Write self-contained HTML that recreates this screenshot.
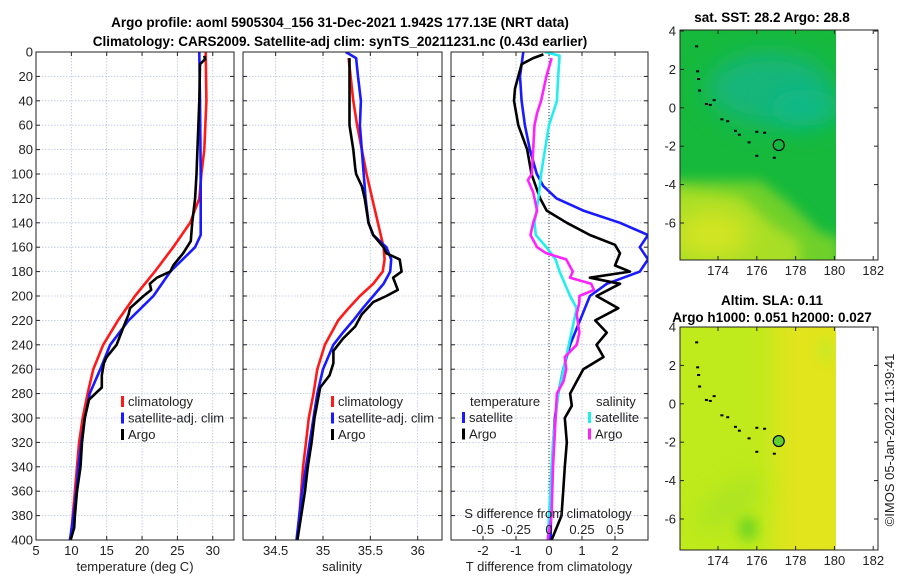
<!DOCTYPE html>
<html><head><meta charset="utf-8">
<style>
body{margin:0;background:#fff;}
svg{display:block;font-family:"Liberation Sans","DejaVu Sans",sans-serif;}
.t{font-size:13px;fill:#222;}
.b{font-size:13.5px;font-weight:bold;fill:#000;}
</style></head>
<body>
<svg id="fig" width="900" height="580" viewBox="0 0 900 580" xmlns="http://www.w3.org/2000/svg">
<defs>
<filter id="blur6" filterUnits="userSpaceOnUse" x="600" y="0" width="300" height="580"><feGaussianBlur stdDeviation="6"/></filter>
<filter id="blur10" filterUnits="userSpaceOnUse" x="600" y="0" width="300" height="580"><feGaussianBlur stdDeviation="12"/></filter>
<clipPath id="c1"><rect x="36" y="52" width="198" height="488"/></clipPath>
<clipPath id="c2"><rect x="243" y="52" width="199" height="488"/></clipPath>
<clipPath id="c3"><rect x="451" y="52" width="197" height="488"/></clipPath>
<clipPath id="m1"><rect x="680" y="30" width="156" height="230"/></clipPath>
<clipPath id="m2"><rect x="680" y="327" width="156" height="223"/></clipPath>
</defs>
<text class="b" x="340" y="27" text-anchor="middle">Argo profile: aoml 5905304_156 31-Dec-2021 1.942S 177.13E (NRT data)</text>
<text class="b" x="340" y="46" text-anchor="middle">Climatology: CARS2009. Satellite-adj clim: synTS_20211231.nc (0.43d earlier)</text>
<g id="p1"></g>
<g id="p2"></g>
<g id="p3"></g>
<g id="maps"></g>
<text class="t" transform="translate(894,440) rotate(-90)" text-anchor="middle">©IMOS 05-Jan-2022 11:39:41</text>
</svg>
<script>
// Depth axis
const depthTicks = [0,20,40,60,80,100,120,140,160,180,200,220,240,260,280,300,320,340,360,380,400];
// Temperature panel
const tTicks = [5,10,15,20,25,30];
const tClimD = [0,40,80,100,120,140,160,180,200,220,240,260,280,300,320,340,360,380,400];
const tClimV = [29.0,29.1,28.8,28.4,28.1,26.8,24.4,21.8,19.0,16.6,14.5,13.1,12.3,11.6,11.1,10.8,10.5,10.2,9.9];
const tSatD = [0,40,100,150,160,180,200,220,240,260,280,300,320,340,360,380,400];
const tSatV = [28.1,28.2,28.3,28.3,27.5,24.0,21.6,18.1,15.5,14.1,12.6,11.9,11.4,11.0,10.7,10.3,9.8];
const tArgoD = [3,6,10,40,100,120,140,155,165,175,180,185,190,195,200,210,215,225,240,250,255,265,275,280,285,300,320,340,360,380,390,400];
const tArgoV = [28.8,28.9,28.2,28.1,27.7,27.5,27.1,26.9,25.8,24.4,24.0,22.1,21.1,21.3,20.2,18.3,18.1,17.4,16.4,15.0,14.6,14.3,14.3,13.4,12.5,11.9,11.5,11.3,10.8,10.5,10.4,9.9];
// Salinity panel
const sTicks = [34.5,35,35.5,36];
const sClimD = [5,40,60,80,100,120,140,160,170,180,190,200,210,220,240,260,280,300,320,340,360,380,400];
const sClimV = [35.27,35.32,35.36,35.41,35.46,35.52,35.58,35.64,35.65,35.63,35.53,35.39,35.27,35.16,35.02,34.94,34.90,34.85,34.82,34.79,34.77,34.75,34.73];
const sSatD = [0,5,20,40,60,80,100,120,140,150,160,170,180,190,200,210,220,230,240,260,280,300,320,340,360,380,400];
const sSatV = [35.24,35.35,35.37,35.40,35.39,35.41,35.43,35.45,35.48,35.53,35.67,35.72,35.71,35.64,35.53,35.42,35.32,35.21,35.11,35.00,34.94,34.90,34.86,34.82,34.78,34.75,34.72];
const sArgoD = [5,20,40,60,80,95,100,110,120,130,140,150,160,165,170,180,185,195,200,205,215,225,235,245,255,265,275,300,320,340,360,380,400];
const sArgoV = [35.28,35.28,35.28,35.28,35.32,35.34,35.35,35.41,35.44,35.46,35.48,35.53,35.64,35.67,35.81,35.83,35.74,35.79,35.67,35.53,35.41,35.34,35.21,35.11,35.11,35.07,34.97,34.91,34.88,34.84,34.81,34.77,34.73];
// Difference panel
const dtTicks = [-2,-1,0,1,2];
const dsTicks = [-0.5,-0.25,0,0.25,0.5];
const dsTickLabels = ["-0.5","-0.25","0","0.25","0.5"];
const dTSatD = [0,20,40,60,80,100,110,120,130,140,150,160,170,180,190,200,220,240,260,280,300,320,340,360,380,400];
const dTSatV = [-0.78,-0.88,-0.83,-0.73,-0.58,-0.37,-0.17,0.23,1.04,2.15,3.0,2.75,3.0,2.75,1.75,1.24,0.94,0.64,0.43,0.28,0.18,0.13,0.11,0.08,0.06,0.05];
const dTArgoD = [2,5,10,20,30,40,60,80,100,120,130,140,150,158,165,175,180,185,190,200,210,220,230,240,250,260,280,290,300,320,340,360,380,400];
const dTArgoV = [-0.17,-0.48,-0.83,-0.93,-1.03,-1.06,-0.93,-0.66,-0.53,-0.27,-0.07,0.54,1.24,2.0,2.15,2.0,2.45,1.24,2.15,1.44,2.10,1.40,1.75,1.44,1.65,1.04,0.64,0.69,0.48,0.54,0.48,0.43,0.38,0.08];
const dSSatD = [0,3,20,40,50,60,80,100,120,140,150,160,170,180,200,210,220,240,260,280,300,320,340,360,380,400];
const dSSatV = [-0.03,0.08,0.07,0.06,0.03,0,-0.03,-0.06,-0.08,-0.11,-0.10,-0.02,0.05,0.08,0.16,0.21,0.19,0.15,0.11,0.07,0.05,0.03,0.02,0.01,0,-0.01];
const dSArgoD = [5,20,40,50,60,80,100,105,115,130,140,150,160,165,170,180,185,190,195,200,205,215,230,240,250,260,270,280,300,340,380,400];
const dSArgoV = [0.02,-0.02,-0.06,-0.09,-0.11,-0.12,-0.13,-0.16,-0.12,-0.09,-0.12,-0.14,-0.09,-0.02,0.13,0.18,0.16,0.32,0.34,0.23,0.23,0.21,0.23,0.21,0.12,0.13,0.11,0.06,0.05,0.03,0.02,-0.01];
// Maps
const lonTicks = [174,176,178,180,182];
const latTicks = [4,2,0,-2,-4,-6];
const argoLon = 177.13, argoLat = -1.94;
const islandLon = [172.9,172.95,173.0,173.05,173.4,173.6,173.8,174.2,174.5,174.9,175.1,175.6,176.0,176.4,176.9,176.0];
const islandLat = [3.2,1.9,1.5,0.9,0.2,0.15,0.4,-0.6,-0.7,-1.2,-1.4,-1.8,-2.5,-1.3,-2.6,-1.25];

const NS='http://www.w3.org/2000/svg';
function mk(parent,tag,attrs){const e=document.createElementNS(NS,tag);for(const k in attrs)e.setAttribute(k,attrs[k]);parent.appendChild(e);return e;}
const Y0=52,Y1=540;
function yD(d){return Y0+(d/400)*(Y1-Y0);}
function xT(v){return 36+(v-5)*7.07;}
function xS(v){return 323+(v-35)*94.7;}
function xDT(v){return 549+v*33;}
function xDS(v){return 549+v*132;}

function frame(g,x0,x1,ticks,xf,labels,yLabels){
  for(const d of depthTicks){
    const l=mk(g,'line',{x1:x0,x2:x1,y1:yD(d),y2:yD(d),stroke:'#b8c4e0','stroke-width':0.8,'stroke-dasharray':'1.5,1.5'});
    
    mk(g,'line',{x1:x0,x2:x0+4,y1:yD(d),y2:yD(d),stroke:'#222'});
    mk(g,'line',{x1:x1-4,x2:x1,y1:yD(d),y2:yD(d),stroke:'#222'});
    if(yLabels){const t=mk(g,'text',{class:'t',x:x0-3,y:yD(d)+4.5,'text-anchor':'end'});t.textContent=d;
      }
  }
  ticks.forEach((v,i)=>{
    const x=xf(v);
    const l=mk(g,'line',{x1:x,x2:x,y1:Y0,y2:Y1,stroke:'#b8c4e0','stroke-width':0.8,'stroke-dasharray':'1.5,1.5'});
    
    mk(g,'line',{x1:x,x2:x,y1:Y1-4,y2:Y1,stroke:'#222'});
    mk(g,'line',{x1:x,x2:x,y1:Y0,y2:Y0+4,stroke:'#222'});
    const t=mk(g,'text',{class:'t',x:x,y:Y1+15,'text-anchor':'middle'});t.textContent=labels?labels[i]:v;
    
  });
}
function border(g,x0,x1){const r=mk(g,'rect',{x:x0,y:Y0,width:x1-x0,height:Y1-Y0,fill:'none',stroke:'#222','stroke-width':1});
  }
function line(g,D,V,xf,color,name,clip){
  const pts=D.map((d,i)=>xf(V[i]).toFixed(1)+','+yD(d).toFixed(1)).join(' ');
  const p=mk(g,'polyline',{points:pts,fill:'none',stroke:color,'stroke-width':2.6,'stroke-linejoin':'round','clip-path':'url(#'+clip+')'});
  
}
function legend(g,x,y,items){
  items.forEach((it,i)=>{
    mk(g,'rect',{x:x,y:y+i*16.5-10,width:3,height:11,fill:it[1]});
    const t=mk(g,'text',{class:'t',x:x+7,y:y+i*16.5});t.textContent=it[0];
    
  });
}
// Panel 1
const p1=document.getElementById('p1');
frame(p1,36,234,tTicks,xT,null,true);
line(p1,tClimD,tClimV,xT,'#ff1a1a','temp-climatology-line','c1');
line(p1,tSatD,tSatV,xT,'#1a1aff','temp-satellite-line','c1');
line(p1,tArgoD,tArgoV,xT,'#000','temp-argo-line','c1');
border(p1,36,234);
legend(p1,121,406,[['climatology','#ff1a1a'],['satellite-adj. clim','#1a1aff'],['Argo','#000']]);
let t=mk(p1,'text',{class:'t',x:135,y:571,'text-anchor':'middle'});t.textContent='temperature (deg C)';

// Panel 2
const p2=document.getElementById('p2');
mk(p2,'rect',{x:243,y:52,width:199,height:488,fill:'#fff'});
frame(p2,243,442,sTicks,xS,null,false);
line(p2,sClimD,sClimV,xS,'#ff1a1a','sal-climatology-line','c2');
line(p2,sSatD,sSatV,xS,'#1a1aff','sal-satellite-line','c2');
line(p2,sArgoD,sArgoV,xS,'#000','sal-argo-line','c2');
border(p2,243,442);
legend(p2,331,406,[['climatology','#ff1a1a'],['satellite-adj. clim','#1a1aff'],['Argo','#000']]);
t=mk(p2,'text',{class:'t',x:342,y:571,'text-anchor':'middle'});t.textContent='salinity';

// Panel 3
const p3=document.getElementById('p3');
mk(p3,'rect',{x:451,y:52,width:197,height:488,fill:'#fff'});
frame(p3,451,648,dtTicks,xDT,null,false);
mk(p3,'line',{x1:549,x2:549,y1:Y0,y2:Y1,stroke:'#333','stroke-width':1,'stroke-dasharray':'1,2'});
line(p3,dTSatD,dTSatV,xDT,'#1a1aff','dT-satellite-line','c3');
line(p3,dTArgoD,dTArgoV,xDT,'#000','dT-argo-line','c3');
line(p3,dSSatD,dSSatV,xDS,'#22eeee','dS-satellite-line','c3');
line(p3,dSArgoD,dSArgoV,xDS,'#ff22ff','dS-argo-line','c3');
border(p3,451,648);
t=mk(p3,'text',{class:'t',x:470,y:406});t.textContent='temperature';

legend(p3,462,422,[['satellite','#1a1aff'],['Argo','#000']]);
t=mk(p3,'text',{class:'t',x:596,y:406});t.textContent='salinity';

legend(p3,588,422,[['satellite','#22eeee'],['Argo','#ff22ff']]);
t=mk(p3,'text',{class:'t',x:548,y:518,'text-anchor':'middle'});t.textContent='S difference from climatology';

dsTicks.forEach((v,i)=>{const tt=mk(p3,'text',{class:'t',x:xDS(v),y:534,'text-anchor':'middle'});tt.textContent=dsTickLabels[i];
  });
t=mk(p3,'text',{class:'t',x:549,y:571,'text-anchor':'middle'});t.textContent='T difference from climatology';


// Maps
const mg=document.getElementById('maps');
function xLon(v){return 680+(v-172.04)*19.4;}
function map(top,bottom,yLat,kind,title1,title2){
  const g=mk(mg,'g',{});
  
  const clip=kind==='sst'?'url(#m1)':'url(#m2)';
  const img=mk(g,'g',{'clip-path':clip});
  if(kind==='sst'){
    mk(img,'rect',{x:680,y:top,width:156,height:bottom-top,fill:'#16b93c'});
    mk(img,'ellipse',{cx:770,cy:yLat(1.0),rx:62,ry:36,fill:'#12b57a',filter:'url(#blur10)'});
    mk(img,'ellipse',{cx:805,cy:yLat(0),rx:35,ry:18,fill:'#0eb987',filter:'url(#blur10)'});
    mk(img,'path',{d:'M670 '+yLat(-3.8)+' L760 '+yLat(-3.8)+' L790 '+yLat(-5)+' L820 '+yLat(-6.5)+' L840 '+yLat(-6.8)+' L840 270 L670 270 Z',fill:'#6fd02a',filter:'url(#blur6)'});
    mk(img,'path',{d:'M670 '+yLat(-4.2)+' L740 '+yLat(-4.6)+' L770 '+yLat(-6)+' L800 '+yLat(-7)+' L800 270 L670 270 Z',fill:'#a8de26',filter:'url(#blur6)'});
    mk(img,'ellipse',{cx:712,cy:yLat(-6.6),rx:38,ry:24,fill:'#d2e424',filter:'url(#blur10)'});
  } else {
    mk(img,'rect',{x:680,y:top,width:156,height:bottom-top,fill:'#bfea1c'});
    mk(img,'rect',{x:775,y:top-20,width:80,height:bottom-top+40,fill:'#e2e41e',filter:'url(#blur10)'});
    mk(img,'ellipse',{cx:730,cy:yLat(-5.2),rx:38,ry:14,fill:'#a8e420',filter:'url(#blur10)',transform:'rotate(-35 730 '+yLat(-5.2)+')'});
    mk(img,'ellipse',{cx:748,cy:yLat(-6.5),rx:10,ry:12,fill:'#6fd622',filter:'url(#blur6)'});
    mk(img,'ellipse',{cx:826,cy:yLat(2.8),rx:8,ry:12,fill:'#c8ea20',filter:'url(#blur6)'});
  }
  islandLon.forEach((lo,i)=>{const d=mk(g,'rect',{x:xLon(lo)-1.5,y:yLat(islandLat[i])-1,width:3,height:2,fill:'#000'});
    });
  const c=mk(g,'circle',{cx:xLon(argoLon),cy:yLat(argoLat),r:5.5,fill:kind==='sst'?'#14b840':'#5fd02a',stroke:'#000','stroke-width':1.2});
  
  const r=mk(g,'rect',{x:680,y:top,width:198,height:bottom-top,fill:'none',stroke:'#222'});
  
  lonTicks.forEach(v=>{const x=xLon(v);mk(g,'line',{x1:x,x2:x,y1:bottom-4,y2:bottom,stroke:'#222'});mk(g,'line',{x1:x,x2:x,y1:top,y2:top+4,stroke:'#222'});
    const tt=mk(g,'text',{class:'t',x:x,y:bottom+15,'text-anchor':'middle'});tt.textContent=v;
    });
  latTicks.forEach(v=>{const y=yLat(v);mk(g,'line',{x1:680,x2:684,y1:y,y2:y,stroke:'#222'});mk(g,'line',{x1:874,x2:878,y1:y,y2:y,stroke:'#222'});
    const tt=mk(g,'text',{class:'t',x:676,y:y+4.5,'text-anchor':'end'});tt.textContent=v;
    });
  let tt=mk(g,'text',{class:'b',x:772,y:title2?top-22:top-8,'text-anchor':'middle'});tt.textContent=title1;
  
  if(title2){tt=mk(g,'text',{class:'b',x:772,y:top-5,'text-anchor':'middle'});tt.textContent=title2;
    }
}
map(30,260,v=>31+(4-v)*19.2,'sst','sat. SST: 28.2 Argo: 28.8',null);
map(327,550,v=>327+(4-v)*19.2,'sla','Altim. SLA: 0.11','Argo h1000: 0.051 h2000: 0.027');
</script>
</body></html>
